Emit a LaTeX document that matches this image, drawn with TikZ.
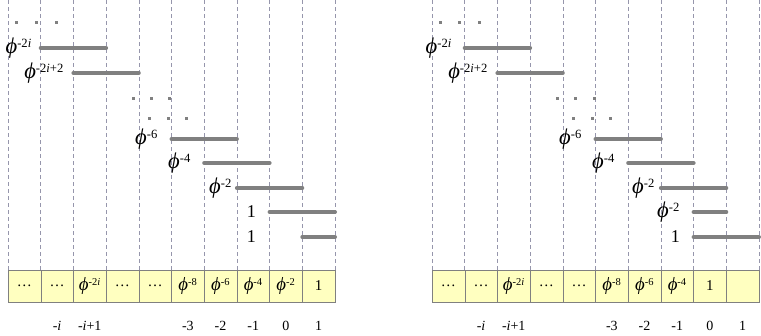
\documentclass[tikz,border=0pt]{standalone}
\usepackage{fontspec}
\setmainfont{Liberation Serif}
\usepackage{xcolor}
\usepackage{tikz}
\usetikzlibrary{positioning}

\definecolor{barGray}{RGB}{128,128,128}
\definecolor{guideGray}{RGB}{150,150,172}
\definecolor{cellFill}{RGB}{255,255,192}
\newcommand{\ph}[1]{\scalebox{1.25}{\textit{ϕ}}\textsuperscript{#1}}

\begin{document}
\begin{tikzpicture}[x=1pt,y=-1pt,
  cell/.style={draw=barGray, fill=cellFill, minimum width=32.7pt, minimum height=32pt,
    inner sep=0pt, outer sep=0pt, font=\fontsize{15}{15}\selectfont},
  guide/.style={draw=guideGray, line width=0.6pt, dash pattern=on 4pt off 3pt},
  bar/.style={draw=barGray, line width=4pt, line cap=round},
  dotbox/.style={fill=barGray, minimum size=3pt, inner sep=0pt},
  tag/.style={anchor=east, inner sep=0pt, font=\fontsize{18}{18}\selectfont},
  idx/.style={inner sep=0pt, text height=9pt, text depth=0pt, font=\fontsize{14}{14}\selectfont}]
\useasboundingbox (0,0) rectangle (761,335);

% left panel
\begin{scope}[shift={(8,0)}]
\foreach \t [count=\k] in {\dots,\dots,{\ph{-2\textit{i}}},\dots,\dots,{\ph{-8}},{\ph{-6}},{\ph{-4}},{\ph{-2}},1}
  \node[cell] (l\k) at ({(\k-0.5)*32.7},286) {\t};
\foreach \k in {0,...,10}
  \draw[guide] ({\k*32.7},0) -- ({\k*32.7},270);
\foreach \a/\b/\y/\e/\t [count=\n] in {1/3/48/24/{\ph{-2\textit{i}}},2/4/73/56/{\ph{-2\textit{i}+2}},
    5/7/139/150/{\ph{-6}},6/8/163/183/{\ph{-4}},7/9/188/224/{\ph{-2}},8/10/212/248/1,9/10/237/248/1}{
  \draw[bar] ({\a*32.7},\y) -- ({\b*32.7},\y);
  \node[tag] (lt\n) at (\e,\y) {\t};
}
\foreach \x/\y in {8/22,28/22,48/22,125/98,143/98,161/98,141/118,160/118,178/118}
  \node[dotbox] at (\x,\y) {};
\node[idx, below=19pt of l2] (li2) {-\textit{i}};
\node[idx, below=19pt of l3] (li3) {-\textit{i}+1};
\node[idx, below=19pt of l6] (li6) {-3};
\node[idx, below=19pt of l7] (li7) {-2};
\node[idx, below=19pt of l8] (li8) {-1};
\node[idx, below=19pt of l9] (li9) {0};
\node[idx, below=19pt of l10] (li10) {1};
\end{scope}

% right panel
\begin{scope}[shift={(432,0)}]
\foreach \t [count=\k] in {\dots,\dots,{\ph{-2\textit{i}}},\dots,\dots,{\ph{-8}},{\ph{-6}},{\ph{-4}},1,{}}
  \node[cell] (r\k) at ({(\k-0.5)*32.7},286) {\t};
\foreach \k in {0,...,10}
  \draw[guide] ({\k*32.7},0) -- ({\k*32.7},270);
\foreach \a/\b/\y/\e/\t [count=\n] in {1/3/48/20/{\ph{-2\textit{i}}},2/4/73/56/{\ph{-2\textit{i}+2}},
    5/7/139/150/{\ph{-6}},6/8/163/183/{\ph{-4}},7/9/188/223/{\ph{-2}},8/9/212/248/{\ph{-2}},8/10/237/248/1}{
  \draw[bar] ({\a*32.7},\y) -- ({\b*32.7},\y);
  \node[tag] (rt\n) at (\e,\y) {\t};
}
\foreach \x/\y in {8/22,27/22,47/22,125/98,143/98,162/98,141/118,160/118,178/118}
  \node[dotbox] at (\x,\y) {};
\node[idx, below=19pt of r2] (ri2) {-\textit{i}};
\node[idx, below=19pt of r3] (ri3) {-\textit{i}+1};
\node[idx, below=19pt of r6] (ri6) {-3};
\node[idx, below=19pt of r7] (ri7) {-2};
\node[idx, below=19pt of r8] (ri8) {-1};
\node[idx, below=19pt of r9] (ri9) {0};
\node[idx, below=19pt of r10] (ri10) {1};
\end{scope}
\end{tikzpicture}
\end{document}
